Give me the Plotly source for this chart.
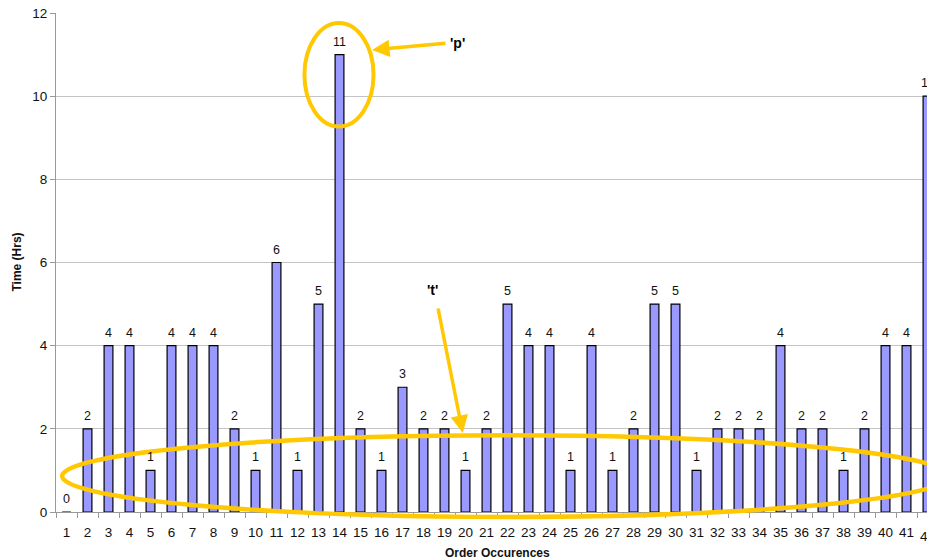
import plotly.graph_objects as go

# Order occurrence numbers and the time taken by each (hours)
categories = [str(i) for i in range(1, 43)]
hours = [0, 2, 4, 4, 1, 4, 4, 4, 2, 1,
         6, 1, 5, 11, 2, 1, 3, 2, 2, 1,
         2, 5, 4, 4, 1, 4, 1, 2, 5, 5,
         1, 2, 2, 2, 4, 2, 2, 1, 2, 4,
         4, 10]
y_ticks = [0, 2, 4, 6, 8, 10, 12]

FONT = "Liberation Sans, Arial, sans-serif"
YELLOW = "#FFC800"
X_RANGE = [-0.5, 40.976]
TICK_STANDOFF = 8


def to_paper_x(idx):
    return (idx - X_RANGE[0]) / (X_RANGE[1] - X_RANGE[0])


fig = go.Figure()
fig.add_trace(go.Bar(
    x=categories,
    y=hours,
    width=0.42,
    marker=dict(color="#9999FF", line=dict(color="#000000", width=1.2)),
    hoverinfo="x+y",
))

annotations = []
# value labels above each bar
for i, val in enumerate(hours):
    inside = X_RANGE[0] <= i <= X_RANGE[1]
    annotations.append(dict(
        x=i if inside else to_paper_x(i),
        xref="x" if inside else "paper",
        y=val, yref="y",
        text=str(val), showarrow=False,
        xanchor="center", yanchor="bottom", yshift=4,
        font=dict(family=FONT, size=12.5, color="#111111"),
    ))

# tick label for the last category, which sits on the right edge
for i, cat in enumerate(categories):
    if i > X_RANGE[1]:
        annotations.append(dict(
            x=to_paper_x(i), xref="paper", y=0, yref="paper",
            text=cat, showarrow=False, xanchor="center", yanchor="top",
            yshift=-(TICK_STANDOFF + 7),
            font=dict(family=FONT, size=13.5, color="#111111"),
        ))

# axis titles
annotations.append(dict(
    x=to_paper_x(20.5), xref="paper", y=0, yref="paper",
    text="<b>Order Occurences</b>", showarrow=False,
    xanchor="center", yanchor="middle", yshift=-41,
    font=dict(family=FONT, size=12, color="#111111"),
))
annotations.append(dict(
    x=-0.0459, xref="paper", y=0.5, yref="paper",
    text="<b>Time (Hrs)</b>", showarrow=False, textangle=-90,
    xanchor="center", yanchor="middle",
    font=dict(family=FONT, size=12, color="#111111"),
))

# callout arrows and their labels
annotations.append(dict(
    x=14.55, y=11.11, xref="x", yref="y", text="", showarrow=True,
    ax=75, ay=-7, arrowhead=2, arrowsize=1, arrowwidth=3.5, arrowcolor=YELLOW,
))
annotations.append(dict(
    x=18.62, y=11.28, xref="x", yref="y", text="<b>'p'</b>", showarrow=False,
    font=dict(family=FONT, size=14, color="#000000"),
))
annotations.append(dict(
    x=18.87, y=1.90, xref="x", yref="y", text="", showarrow=True,
    ax=-25, ay=-126, arrowhead=2, arrowsize=1, arrowwidth=3.5, arrowcolor=YELLOW,
))
annotations.append(dict(
    x=17.45, y=5.34, xref="x", yref="y", text="<b>'t'</b>", showarrow=False,
    font=dict(family=FONT, size=14, color="#000000"),
))

shapes = [
    # ring round the peak
    dict(type="circle", xref="x", yref="y", x0=11.33, x1=14.62, y0=9.27, y1=11.76,
         line=dict(color=YELLOW, width=4)),
    # wide ring along the low values
    dict(type="circle", xref="x", yref="paper", x0=-0.21, x1=42.02, y0=-0.010, y1=0.154,
         line=dict(color=YELLOW, width=4.5)),
]

fig.update_layout(
    width=927, height=560,
    margin=dict(l=56, r=0, t=13, b=48, autoexpand=False),
    paper_bgcolor="white", plot_bgcolor="white",
    showlegend=False,
    font=dict(family=FONT, size=13.5, color="#111111"),
    annotations=annotations,
    shapes=shapes,
    bargap=0.5,
)
fig.update_xaxes(
    type="category", range=X_RANGE, tickson="boundaries",
    ticks="outside", ticklen=5, tickcolor="#999999",
    showline=True, linecolor="#999999", linewidth=1,
    showgrid=False, ticklabelstandoff=TICK_STANDOFF, tickangle=0,
    tickfont=dict(family=FONT, size=13.5, color="#111111"),
)
fig.update_yaxes(
    range=[0, 12], tickvals=y_ticks,
    ticks="outside", ticklen=5, tickcolor="#999999",
    showline=True, linecolor="#999999", linewidth=1,
    showgrid=True, gridcolor="#C4C4C4", gridwidth=1,
    zeroline=False,
    tickfont=dict(family=FONT, size=13.5, color="#111111"),
)

fig.write_html("out.html")
